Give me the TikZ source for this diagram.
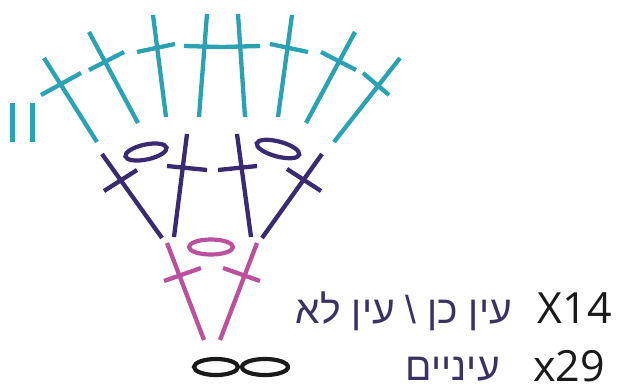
\documentclass[tikz,border=0pt]{standalone}
\usepackage{fontspec}
\setmainfont{Open Sans}
\newfontfamily\hebfont[Script=Hebrew]{Liberation Sans}
\TeXXeTstate=1
\definecolor{crteal}{HTML}{2BA2B4}
\definecolor{crviolet}{HTML}{3A2A72}
\definecolor{crpink}{HTML}{BB519D}
\definecolor{crink}{HTML}{1A1A1A}
\definecolor{crtext}{HTML}{3C3163}
\tikzset{
  cr bar/.style={line width=4.3pt, line cap=butt},
  cr loop/.style={line width=4.2pt},
  cr latin/.style={font=\fontsize{43}{43}\selectfont, text=crink, anchor=base east, inner sep=0pt},
  cr heb/.style={font=\hebfont\fontsize{39}{39}\selectfont, text=crtext, anchor=base east, inner sep=0pt}
}
\begin{document}
\begin{tikzpicture}[x=1pt, y=-1pt]
  \useasboundingbox (0,0) rectangle (620,388);
  % top row
  \foreach \xa/\ya/\xb/\yb/\xc/\yc/\xd/\yd in {
    44/58/97/142/41/95/81/73,
    89/32/138/123/89/70/124/52,
    153/15/166/117/137/52/175/44,
    207/14/199/117/184/46/222/47,
    238/14/245/117/222/47/260/46,
    292/15/278/117/270/44/308/52,
    355/32/306/123/321/52/356/70,
    400/58/334/142/363/73/389/95} {
    \draw[cr bar, crteal] (\xa,\ya)--(\xb,\yb) (\xc,\yc)--(\xd,\yd);
  }
  \foreach \x in {12.5,32.5} {
    \draw[cr bar, crteal] (\x,103)--(\x,142);
  }
  % middle row
  \foreach \xa/\ya/\xb/\yb/\xc/\yc/\xd/\yd in {
    102/154/162/238/104/191/137/170,
    187/134/174/237/167/166/207/170,
    237/134/251/237/218/170/257/166,
    322/154/262/238/287/169/321/191} {
    \draw[cr bar, crviolet] (\xa,\ya)--(\xb,\yb) (\xc,\yc)--(\xd,\yd);
  }
  \draw[cr loop, crviolet, rotate around={12:(146,152)}] (146,152) ellipse (21 and 7.5);
  \draw[cr loop, crviolet, rotate around={-15:(278,149)}] (278,149) ellipse (22 and 7.5);
  % lower row
  \foreach \xa/\ya/\xb/\yb/\xc/\yc/\xd/\yd in {
    167/243/204/340/164/281/201/268,
    257/243/220/340/223/268/260/281} {
    \draw[cr bar, crpink] (\xa,\ya)--(\xb,\yb) (\xc,\yc)--(\xd,\yd);
  }
  \draw[cr loop, crpink] (211,247) ellipse (22 and 7.5);
  % base chain
  \draw[cr loop, crink] (216,367) ellipse (22 and 8);
  \draw[cr loop, crink] (265,367) ellipse (23 and 8);
  % legend
  \node[cr latin] (countA) at (612,323) {X14};
  \node[cr latin] (countB) at (605,381) {x29};
  \node[cr heb] (nameA) at (512,323) {\beginR עין כן \textbackslash{} עין לא\endR};
  \node[cr heb] (nameB) at (500,380) {\beginR עיניים\endR};
\end{tikzpicture}
\end{document}
